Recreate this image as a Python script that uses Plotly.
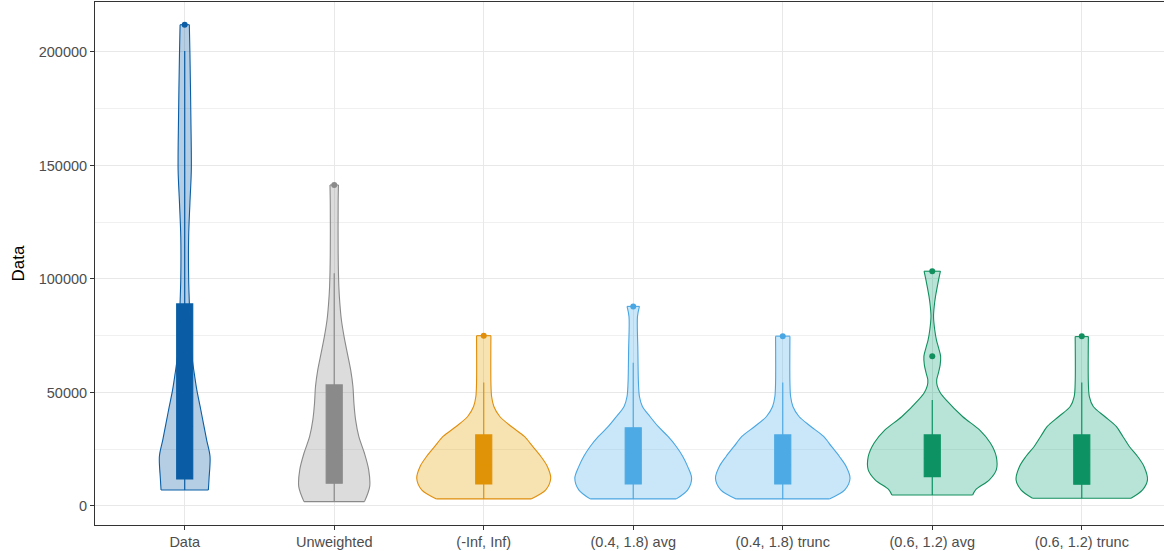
import plotly.graph_objects as go

categories = ["Data", "Unweighted", "(-Inf, Inf)", "(0.4, 1.8) avg",
              "(0.4, 1.8) trunc", "(0.6, 1.2) avg", "(0.6, 1.2) trunc"]

# violin density profiles (value levels, relative density)
data_y = [7000, 12000, 21800, 29000, 36400, 43700, 51100, 58400, 65800, 73100,
          89400, 100000, 118600, 133500, 148000, 170000, 199400, 212000]
data_d = [24.0, 24.7, 25.7, 22.3, 19.0, 15.7, 12.3, 9.7, 7.3, 5.7,
          4.7, 4.0, 4.0, 5.3, 6.7, 6.3, 5.3, 4.7]

unw_y = [1900, 8500, 15900, 23200, 30500, 37900, 45200, 52600, 59900, 67300,
         74600, 81900, 89300, 96600, 111300, 133300, 141400]
unw_d = [30.7, 36.0, 35.0, 30.7, 25.0, 21.7, 20.0, 19.0, 16.7, 13.3,
         10.0, 7.3, 5.7, 4.7, 4.0, 4.0, 4.3]

inf_y = [3100, 7100, 12200, 17300, 21800, 26200, 30600, 35000, 39400, 43800,
         48200, 54100, 75000]
inf_d = [48.0, 63.0, 68.0, 64.7, 58.0, 49.7, 41.3, 28.0, 16.3, 10.3,
         8.0, 7.3, 7.3]

a418_y = [3100, 7100, 12200, 17300, 21800, 26200, 30600, 35000, 39400, 43800,
          48200, 54100, 68800, 83400, 87900]
a418_d = [43.7, 55.3, 59.3, 55.3, 50.3, 43.7, 35.3, 25.3, 17.0, 9.3,
          6.3, 5.3, 4.7, 4.3, 6.3]

t418_y = [3100, 7100, 12200, 17300, 21800, 26200, 30600, 35000, 39400, 43800,
          48200, 54100, 74800]
t418_d = [47.3, 63.0, 68.3, 64.5, 57.5, 49.5, 41.5, 28.5, 16.5, 10.3,
          8.0, 7.3, 7.3]

a612_y = [4800, 7100, 11500, 15900, 21700, 27700, 33500, 39300, 46700, 50000,
          53000, 55600, 58500, 62000, 65900, 69500, 73200, 77600, 83500, 88000,
          92300, 98200, 103400]
a612_d = [41.0, 44.0, 58.0, 65.0, 65.0, 59.0, 48.0, 31.0, 14.0, 8.0,
          5.0, 4.5, 6.2, 8.0, 8.5, 6.5, 4.2, 2.5, 1.3, 2.0,
          3.3, 5.8, 8.3]

t612_y = [3400, 7100, 11500, 17300, 21800, 26200, 30600, 35000, 39400, 43800,
          48200, 54100, 74600]
t612_d = [50.0, 61.7, 66.7, 63.3, 56.7, 48.3, 41.7, 35.0, 23.3, 11.7,
          7.7, 6.7, 6.7]

# box statistics
q1 = [11900, 10000, 9700, 9700, 9700, 12900, 9600]
median = [35000, 22000, 18000, 19000, 18000, 21000, 18000]
q3 = [89000, 53300, 31300, 34400, 31300, 31300, 31300]
lower = [7000, 1900, 3100, 3100, 3100, 4800, 3400]
upper = [200400, 102500, 54400, 63100, 54400, 46700, 54400]
outlier_x = [0, 1, 2, 3, 4, 5, 5, 6]
outlier_y = [212000, 141400, 75000, 87900, 74800, 65900, 103400, 74800]

colors = ["#0B5EA5", "#8A8A8A", "#E08E0B", "#4AA6E2", "#4AA6E2", "#128F5E", "#128F5E"]
fills = ["rgba(11,94,165,0.30)", "rgba(138,138,138,0.30)", "rgba(230,159,0,0.30)",
         "rgba(86,180,233,0.32)", "rgba(86,180,233,0.32)", "rgba(0,158,115,0.28)",
         "rgba(0,158,115,0.28)"]

profiles = [(data_y, data_d), (unw_y, unw_d), (inf_y, inf_d), (a418_y, a418_d),
            (t418_y, t418_d), (a612_y, a612_d), (t612_y, t612_d)]

max_d = max(max(d) for _, d in profiles)
scale = 0.45 / max_d

fig = go.Figure()

for i, (ys, ds) in enumerate(profiles):
    xr = [i + d * scale for d in ds]
    xl = [i - d * scale for d in ds]
    line = dict(color=colors[i], width=1.1, shape="spline", smoothing=0.9)
    fig.add_trace(go.Scatter(x=xl, y=ys, mode="lines", line=line,
                             hoverinfo="skip", showlegend=False))
    fig.add_trace(go.Scatter(x=xr, y=ys, mode="lines", line=line,
                             fill="tonexty", fillcolor=fills[i],
                             hoverinfo="skip", showlegend=False))
    # flat trimmed bottom and top edges
    for k in (0, -1):
        fig.add_trace(go.Scatter(
            x=[xl[k], xr[k]], y=[ys[k], ys[k]], mode="lines",
            line=dict(color=colors[i], width=1.1), hoverinfo="skip", showlegend=False))

for i in range(len(categories)):
    fig.add_trace(go.Box(
        x=[i], q1=[q1[i]], median=[median[i]], q3=[q3[i]],
        lowerfence=[lower[i]], upperfence=[upper[i]],
        fillcolor=colors[i], line=dict(color=colors[i], width=1.2),
        width=0.107, whiskerwidth=0, boxpoints=False, showlegend=False))

fig.add_trace(go.Scatter(
    x=outlier_x, y=outlier_y, mode="markers",
    marker=dict(color=[colors[i] for i in outlier_x], size=6),
    showlegend=False))

fig.update_layout(
    width=1164, height=551,
    margin=dict(l=95, r=0, t=2, b=26),
    paper_bgcolor="white", plot_bgcolor="white",
    font=dict(family="Liberation Sans, Arial, sans-serif"),
    xaxis=dict(
        range=[-0.6, 6.55], tickvals=list(range(len(categories))), ticktext=categories,
        showgrid=True, gridcolor="#E8E8E8", gridwidth=1.3, zeroline=False,
        showline=True, linecolor="#333333", linewidth=1, mirror=True,
        ticks="outside", ticklen=4, tickcolor="#333333", automargin=False,
        tickfont=dict(size=14.5, color="#4D4D4D")),
    yaxis=dict(
        range=[-8400, 222000], tickvals=[0, 50000, 100000, 150000, 200000],
        ticktext=["0", "50000", "100000", "150000", "200000"],
        showgrid=True, gridcolor="#E8E8E8", gridwidth=1.3, zeroline=False,
        showline=True, linecolor="#333333", linewidth=1, automargin=False,
        ticks="outside", ticklen=4, tickcolor="#333333",
        tickfont=dict(size=14.5, color="#4D4D4D"),
        minor=dict(tickvals=[25000, 75000, 125000, 175000], showgrid=True,
                   gridcolor="#F0F0F0", gridwidth=0.8, ticks="")),
    annotations=[dict(text="Data", xref="paper", yref="paper",
                      x=(18 - 95) / 1069, y=0.5, xanchor="center", yanchor="middle",
                      textangle=-90, showarrow=False,
                      font=dict(size=17, color="black"))],
)

fig.write_html("out.html", config={"displayModeBar": False},
               post_script="document.body.style.margin='0px';document.body.style.overflow='hidden';")
